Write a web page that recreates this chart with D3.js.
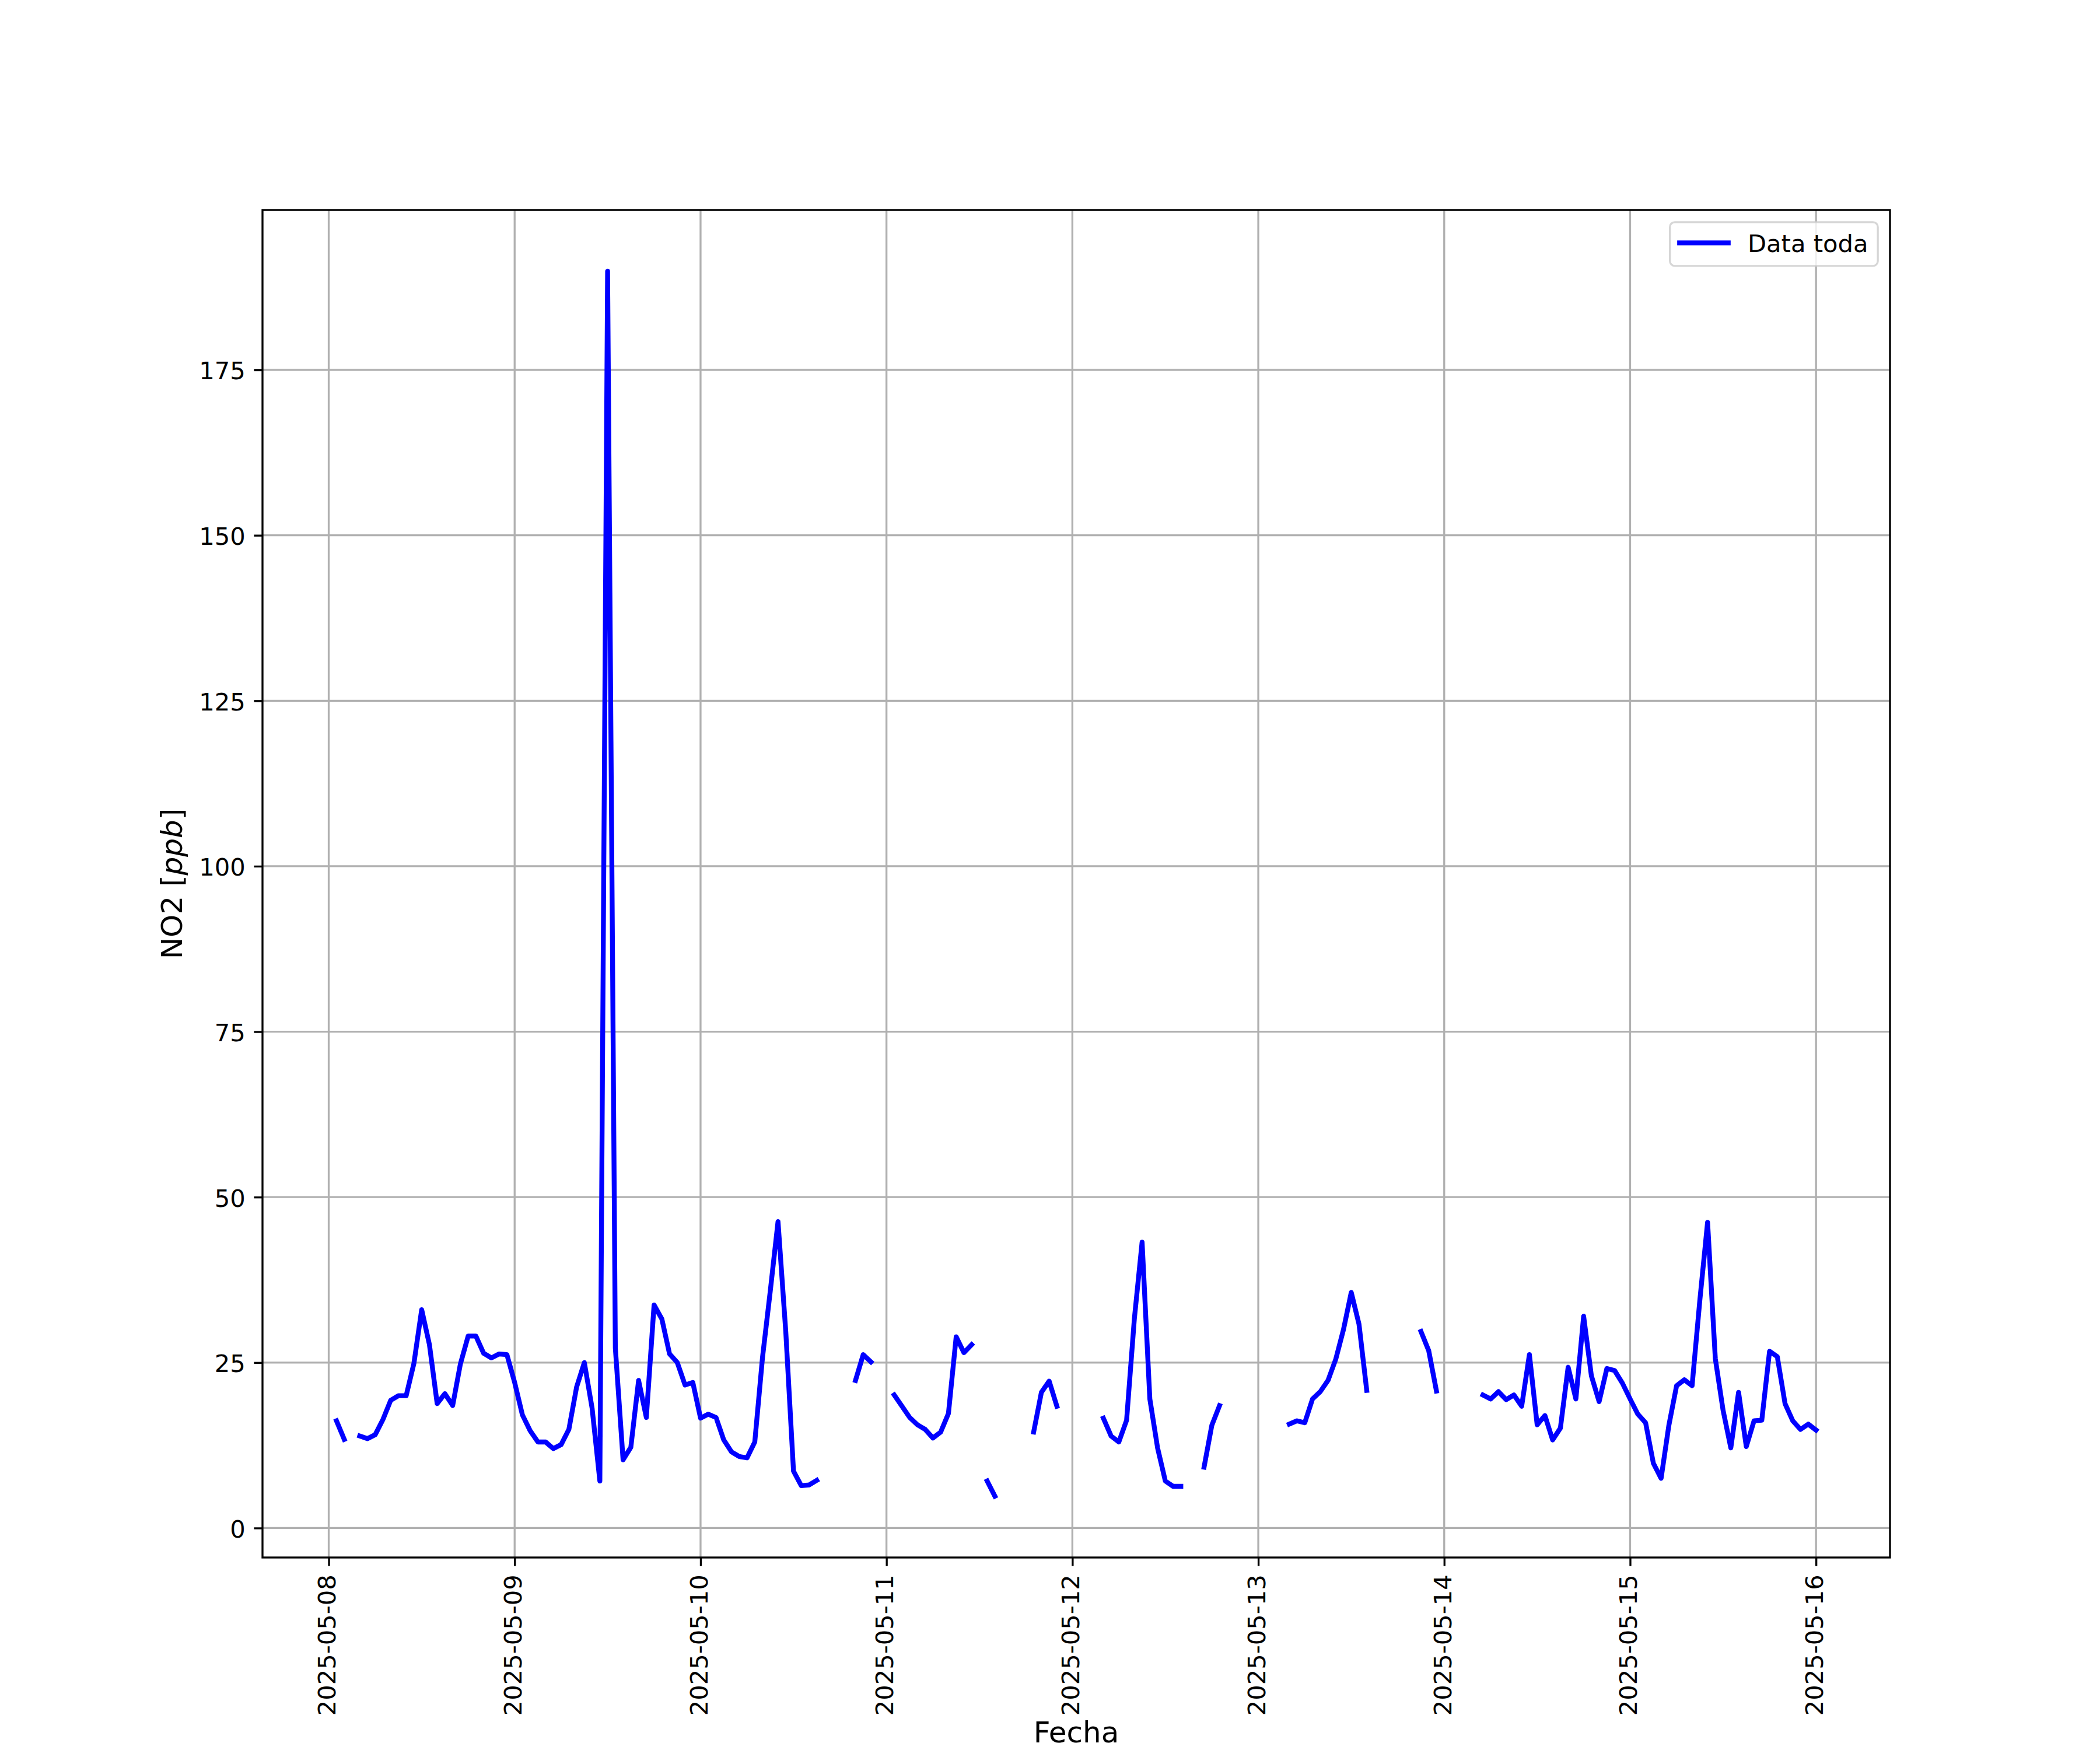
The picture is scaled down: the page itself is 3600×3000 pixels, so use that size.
<!DOCTYPE html>
<html>
<head>
<meta charset="utf-8">
<script src="https://cdn.jsdelivr.net/npm/d3@7"></script>
<style>
  html, body { margin: 0; padding: 0; background: #ffffff; }
  svg { display: block; }
  text { font-family: "DejaVu Sans", sans-serif; fill: #000; }
</style>
</head>
<body>
<script>
// ---------------- DATA (hourly NO2, ppb; null = missing) ----------------
const dayLabels = ["2025-05-08","2025-05-09","2025-05-10","2025-05-11","2025-05-12",
                   "2025-05-13","2025-05-14","2025-05-15","2025-05-16"];

// each array: hours 00..23 of that day
const no2_0508 = [null,16.2,13.4,null,13.9,13.5,14.1,16.4,19.3,20.0,20.0,24.9,
                  33.0,27.7,18.8,20.3,18.5,24.8,29.0,29.0,26.4,25.7,26.3,26.2];
const no2_0509 = [22.0,17.1,14.7,13.0,13.0,12.0,12.6,14.9,21.3,25.0,18.1,7.1,
                  189.9,27.2,10.3,12.2,22.3,16.7,33.7,31.6,26.3,25.0,21.6,22.0];
const no2_0510 = [16.6,17.2,16.7,13.3,11.5,10.8,10.6,13.0,25.8,35.8,46.3,29.7,
                  8.6,6.4,6.5,7.2,null,null,null,null,22.3,26.2,25.1,null];
const no2_0511 = [null,20.1,18.4,16.7,15.6,14.9,13.6,14.5,17.3,28.9,26.5,27.7,
                  null,7.1,4.8,null,null,null,null,14.5,20.5,22.2,18.4,null];
const no2_0512 = [null,null,null,null,16.6,13.9,13.0,16.3,31.6,43.2,19.5,12.1,
                  7.1,6.3,6.3,null,null,9.2,15.5,18.5,null,null,null,null];
const no2_0513 = [null,null,null,null,15.7,16.2,15.9,19.5,20.6,22.3,25.5,30.0,
                  35.6,30.8,20.8,null,null,null,null,null,null,29.7,26.8,20.7];
const no2_0514 = [null,null,null,null,null,20.1,19.5,20.6,19.4,20.1,18.4,26.2,
                  15.6,17.0,13.3,15.1,24.3,19.5,32.0,23.0,19.1,24.1,23.8,21.9];
const no2_0515 = [19.5,17.2,15.9,9.8,7.5,15.5,21.5,22.4,21.5,34.4,46.2,25.6,
                  17.8,12.1,20.5,12.3,16.2,16.3,26.7,25.9,18.8,16.2,14.9,15.7];
const no2_0516 = [14.8];

const yTickValues = [0, 25, 50, 75, 100, 125, 150, 175];
const seriesName = "Data toda";
const xAxisLabel = "Fecha";
const yLabelParts = ["NO2 [", "ppb", "]"];   // middle part is italic (math text)

// ---------------- BUILD ----------------
const dailyArrays = [no2_0508,no2_0509,no2_0510,no2_0511,no2_0512,no2_0513,no2_0514,no2_0515,no2_0516];
const parseDay = d3.utcParse("%Y-%m-%d");
const data = [];
dailyArrays.forEach((arr, di) => {
  const base = parseDay(dayLabels[di]);
  arr.forEach((v, h) => data.push({ t: new Date(base.getTime() + h * 3600e3), v: v }));
});
const valid = data.filter(d => d.v !== null);

// Figure geometry (12x10 in @ 300 dpi, default subplot params)
const W = 3600, H = 3000;
const L = 450, R = 3240, T = 360, B = 2670;
const pt = 300 / 72;
const tickFont = 10 * pt, labelFont = 12 * pt;
const tickLen = 3.5 * pt, tickPad = 3.5 * pt, thin = 0.8 * pt;

// autoscale with 5% margins like matplotlib
const tExt = d3.extent(valid, d => d.t.getTime());
const tPad = (tExt[1] - tExt[0]) * 0.05;
const vExt = d3.extent(valid, d => d.v);
const vPad = (vExt[1] - vExt[0]) * 0.05;

const x = d3.scaleUtc().domain([new Date(tExt[0] - tPad), new Date(tExt[1] + tPad)]).range([L, R]);
const y = d3.scaleLinear().domain([vExt[0] - vPad, vExt[1] + vPad]).range([B, T]);
const xTickDates = dayLabels.map(parseDay);

const svg = d3.select("body").append("svg")
  .attr("width", W).attr("height", H)
  .attr("viewBox", `0 0 ${W} ${H}`);
svg.append("rect").attr("width", W).attr("height", H).attr("fill", "#ffffff");

// grid
const grid = svg.append("g").attr("stroke", "#b0b0b0").attr("stroke-width", thin);
grid.selectAll("line.gx").data(xTickDates).join("line").attr("class", "gx")
  .attr("x1", d => x(d)).attr("x2", d => x(d)).attr("y1", T).attr("y2", B);
grid.selectAll("line.gy").data(yTickValues).join("line").attr("class", "gy")
  .attr("x1", L).attr("x2", R).attr("y1", d => y(d)).attr("y2", d => y(d));

// data line
svg.append("defs").append("clipPath").attr("id", "clip")
  .append("rect").attr("x", L).attr("y", T).attr("width", R - L).attr("height", B - T);
const line = d3.line().defined(d => d.v !== null).x(d => x(d.t)).y(d => y(d.v));
svg.append("path").datum(data)
  .attr("clip-path", "url(#clip)")
  .attr("d", line)
  .attr("fill", "none")
  .attr("stroke", "#0000ff")
  .attr("stroke-width", 2 * pt)
  .attr("stroke-linejoin", "round")
  .attr("stroke-linecap", "square");

// spines
svg.append("rect").attr("x", L).attr("y", T).attr("width", R - L).attr("height", B - T)
  .attr("fill", "none").attr("stroke", "#000").attr("stroke-width", thin)
  .attr("stroke-linecap", "square");

// x axis
const xAxisG = svg.append("g").attr("transform", `translate(0,${B})`)
  .call(d3.axisBottom(x).tickValues(xTickDates).tickFormat(d3.utcFormat("%Y-%m-%d"))
        .tickSizeInner(tickLen).tickSizeOuter(0));
xAxisG.select(".domain").remove();
xAxisG.selectAll(".tick line").attr("stroke", "#000").attr("stroke-width", thin);
xAxisG.selectAll(".tick text")
  .attr("font-size", tickFont).attr("font-family", "DejaVu Sans").attr("fill", "#000")
  .attr("transform", "rotate(-90)")
  .attr("text-anchor", "end")
  .attr("x", -(tickLen + tickPad)).attr("y", 0).attr("dy", "0.27em");

// y axis
const yAxisG = svg.append("g").attr("transform", `translate(${L},0)`)
  .call(d3.axisLeft(y).tickValues(yTickValues).tickFormat(d3.format("d"))
        .tickSizeInner(tickLen).tickSizeOuter(0).tickPadding(tickPad));
yAxisG.select(".domain").remove();
yAxisG.selectAll(".tick line").attr("stroke", "#000").attr("stroke-width", thin);
yAxisG.selectAll(".tick text")
  .attr("font-size", tickFont).attr("font-family", "DejaVu Sans").attr("fill", "#000")
  .attr("dy", "0.38em");

// axis labels
svg.append("text")
  .attr("x", (L + R) / 2).attr("y", 2987)
  .attr("text-anchor", "middle").attr("font-size", labelFont)
  .text(xAxisLabel);

const yl = svg.append("text")
  .attr("transform", `translate(312,${(T + B) / 2}) rotate(-90)`)
  .attr("text-anchor", "middle").attr("font-size", labelFont);
yl.append("tspan").text(yLabelParts[0]);
yl.append("tspan").attr("font-style", "italic").text(yLabelParts[1]);
yl.append("tspan").text(yLabelParts[2]);

// legend (upper right)
const lf = tickFont;
const legW = 356.5, legH = 75;
const legX = R - 0.5 * lf - legW, legY = T + 0.5 * lf;
const leg = svg.append("g").attr("transform", `translate(${legX},${legY})`);
leg.append("rect").attr("width", legW).attr("height", legH)
  .attr("rx", 0.2 * lf).attr("ry", 0.2 * lf)
  .attr("fill", "#ffffff").attr("fill-opacity", 0.8)
  .attr("stroke", "#cccccc").attr("stroke-opacity", 0.8).attr("stroke-width", thin);
leg.append("line")
  .attr("x1", 0.4 * lf).attr("x2", 0.4 * lf + 2 * lf)
  .attr("y1", 35.5).attr("y2", 35.5)
  .attr("stroke", "#0000ff").attr("stroke-width", 2 * pt).attr("stroke-linecap", "square");
leg.append("text")
  .attr("x", 0.4 * lf + 2 * lf + 0.8 * lf).attr("y", 51)
  .attr("font-size", lf)
  .text(seriesName);
</script>
</body>
</html>
